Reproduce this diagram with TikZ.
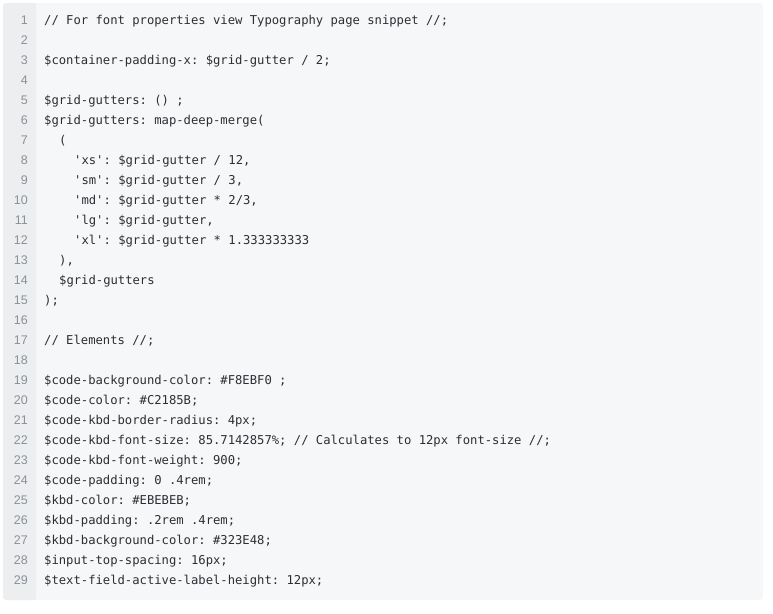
\documentclass[tikz,border=0pt]{standalone}
\usepackage{fontspec}
\setmainfont{Liberation Sans}
\setmonofont{DejaVu Sans Mono}[Scale=1]
\usetikzlibrary{positioning}
\definecolor{panel}{HTML}{F6F7F8}
\definecolor{gutter}{HTML}{EDEEF0}
\definecolor{numgray}{HTML}{8A9199}
\definecolor{codeink}{HTML}{2B2F33}

\begin{document}
\begin{tikzpicture}[x=1pt, y=-1pt,
  num/.style = {anchor=base east, inner sep=0pt, font=\fontsize{12.5}{14}\selectfont, text=numgray},
  code/.style = {anchor=base west, inner sep=0pt, font=\ttfamily\fontsize{12.2}{14}\selectfont, text=codeink}]
\useasboundingbox (0,0) rectangle (773,613);
\fill[panel, rounded corners=3pt] (3,3) rectangle (763,600);
\fill[gutter, rounded corners=3pt] (3,3) rectangle (36,600);
\fill[gutter] (20,3) rectangle (36,600);

% line numbers
\foreach \n in {1,...,29}
  \node[num] (n\n) at (28, 4+20*\n) {\n};

% code lines
\node[code] (c1) at (44, 24) {// For font properties view Typography page snippet //;};
\node[code] (c3) at (44, 64) {\$container-padding-x: \$grid-gutter / 2;};
\node[code] (c5) at (44, 104) {\$grid-gutters: () ;};
\node[code] (c6) at (44, 124) {\$grid-gutters: map-deep-merge(};
\node[code] (c7) at (59, 144) {(};
\node[code] (c8) at (74, 164) {'xs': \$grid-gutter / 12,};
\node[code] (c9) at (74, 184) {'sm': \$grid-gutter / 3,};
\node[code] (c10) at (74, 204) {'md': \$grid-gutter * 2/3,};
\node[code] (c11) at (74, 224) {'lg': \$grid-gutter,};
\node[code] (c12) at (74, 244) {'xl': \$grid-gutter * 1.333333333};
\node[code] (c13) at (59, 264) {),};
\node[code] (c14) at (59, 284) {\$grid-gutters};
\node[code] (c15) at (44, 304) {);};
\node[code] (c17) at (44, 344) {// Elements //;};
\node[code] (c19) at (44, 384) {\$code-background-color: \#F8EBF0 ;};
\node[code] (c20) at (44, 404) {\$code-color: \#C2185B;};
\node[code] (c21) at (44, 424) {\$code-kbd-border-radius: 4px;};
\node[code] (c22) at (44, 444) {\$code-kbd-font-size: 85.7142857\%; // Calculates to 12px font-size //;};
\node[code] (c23) at (44, 464) {\$code-kbd-font-weight: 900;};
\node[code] (c24) at (44, 484) {\$code-padding: 0 .4rem;};
\node[code] (c25) at (44, 504) {\$kbd-color: \#EBEBEB;};
\node[code] (c26) at (44, 524) {\$kbd-padding: .2rem .4rem;};
\node[code] (c27) at (44, 544) {\$kbd-background-color: \#323E48;};
\node[code] (c28) at (44, 564) {\$input-top-spacing: 16px;};
\node[code] (c29) at (44, 584) {\$text-field-active-label-height: 12px;};
\end{tikzpicture}
\end{document}
